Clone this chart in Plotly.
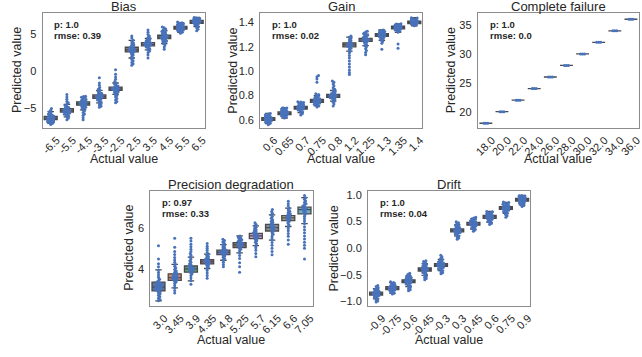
import math
import plotly.graph_objects as go

W, H = 642, 357

# ---------------- data ----------------
bias_labels = ["-6.5", "-5.5", "-4.5", "-3.5", "-2.5", "2.5", "3.5", "4.5", "5.5", "6.5"]
bias_q1 = [-6.58, -5.55, -4.62, -3.68, -2.61, 2.62, 3.44, 4.43, 5.72, 6.52]
bias_med = [-6.38, -5.35, -4.40, -3.46, -2.40, 2.92, 3.66, 4.65, 5.90, 6.72]
bias_q3 = [-6.14, -5.10, -4.16, -3.22, -2.16, 3.26, 3.90, 4.89, 6.08, 6.90]
bias_points = [
    [-7.25, -7.1, -7.0, -6.95, -6.9, -6.85, -6.8, -6.75, -6.7, -6.65, -6.6, -6.55, -6.5, -6.45, -6.4, -6.35, -6.3, -6.25, -6.2, -6.15, -6.1, -6.0, -5.9, -5.8, -5.65, -5.5, -5.3, -5.05],
    [-6.6, -6.4, -6.2, -6.05, -5.95, -5.85, -5.75, -5.7, -5.6, -5.55, -5.5, -5.45, -5.4, -5.35, -5.3, -5.25, -5.2, -5.1, -5.0, -4.9, -4.8, -4.65, -4.5, -4.3, -4.1, -3.8, -3.5, -3.15],
    [-6.6, -6.3, -6.0, -5.8, -5.6, -5.4, -5.25, -5.1, -5.0, -4.9, -4.8, -4.7, -4.6, -4.5, -4.45, -4.4, -4.35, -4.3, -4.2, -4.1, -4.0, -3.95, -3.85, -3.75, -3.65, -3.55, -3.45, -3.4],
    [-4.9, -4.75, -4.6, -4.45, -4.3, -4.15, -4.0, -3.9, -3.8, -3.7, -3.6, -3.55, -3.5, -3.45, -3.4, -3.35, -3.3, -3.2, -3.1, -3.0, -2.9, -2.75, -2.6, -2.4, -2.2, -1.9, -1.6, -0.9],
    [-4.3, -4.1, -3.9, -3.7, -3.5, -3.3, -3.15, -3.0, -2.9, -2.8, -2.7, -2.6, -2.5, -2.45, -2.4, -2.35, -2.3, -2.2, -2.1, -2.0, -1.9, -1.75, -1.6, -1.4, -1.1, -0.8, -0.4, 0.2],
    [0.8, 1.0, 1.2, 1.4, 1.6, 1.8, 2.0, 2.2, 2.35, 2.5, 2.6, 2.7, 2.8, 2.85, 2.9, 2.95, 3.0, 3.1, 3.2, 3.3, 3.4, 3.55, 3.7, 3.85, 4.0, 4.2, 4.5, 4.8],
    [1.8, 2.2, 2.5, 2.7, 2.9, 3.05, 3.2, 3.3, 3.4, 3.5, 3.55, 3.6, 3.65, 3.7, 3.75, 3.8, 3.85, 3.9, 4.0, 4.1, 4.2, 4.3, 4.45, 4.6, 4.8, 5.0, 5.3, 5.6],
    [3.0, 3.3, 3.55, 3.75, 3.9, 4.0, 4.1, 4.2, 4.3, 4.4, 4.5, 4.55, 4.6, 4.65, 4.7, 4.75, 4.8, 4.9, 5.0, 5.1, 5.2, 5.3, 5.4, 5.5, 5.6, 5.75, 5.9, 6.0],
    [5.15, 5.3, 5.4, 5.5, 5.55, 5.6, 5.65, 5.7, 5.75, 5.8, 5.85, 5.88, 5.9, 5.92, 5.95, 6.0, 6.05, 6.1, 6.15, 6.2, 6.25, 6.3, 6.35, 6.4, 6.5, 6.55, 6.6, 6.7],
    [5.5, 5.7, 5.9, 6.05, 6.2, 6.3, 6.4, 6.5, 6.55, 6.6, 6.6, 6.65, 6.7, 6.7, 6.72, 6.75, 6.8, 6.8, 6.85, 6.9, 6.95, 7.0, 7.05, 7.1, 7.15, 7.2, 7.25, 7.3],
]

gain_labels = ["0.6", "0.65", "0.7", "0.75", "0.8", "1.2", "1.25", "1.3", "1.35", "1.4"]
gain_q1 = [0.596, 0.643, 0.689, 0.744, 0.785, 1.201, 1.245, 1.287, 1.349, 1.391]
gain_med = [0.607, 0.654, 0.700, 0.756, 0.797, 1.217, 1.258, 1.298, 1.360, 1.401]
gain_q3 = [0.619, 0.666, 0.712, 0.768, 0.810, 1.234, 1.271, 1.310, 1.371, 1.412]
gain_points = [
    [0.56, 0.57, 0.575, 0.58, 0.585, 0.59, 0.595, 0.598, 0.60, 0.602, 0.605, 0.607, 0.609, 0.611, 0.614, 0.617, 0.62, 0.623, 0.627, 0.631, 0.636, 0.642, 0.648, 0.653],
    [0.615, 0.622, 0.628, 0.633, 0.637, 0.641, 0.644, 0.647, 0.65, 0.652, 0.654, 0.656, 0.658, 0.661, 0.664, 0.667, 0.671, 0.675, 0.679, 0.684, 0.689, 0.694, 0.698, 0.70],
    [0.64, 0.65, 0.66, 0.668, 0.675, 0.681, 0.686, 0.69, 0.694, 0.697, 0.70, 0.702, 0.705, 0.708, 0.711, 0.715, 0.719, 0.723, 0.728, 0.733, 0.738, 0.743, 0.747, 0.75],
    [0.707, 0.715, 0.722, 0.728, 0.733, 0.738, 0.742, 0.746, 0.75, 0.753, 0.756, 0.759, 0.762, 0.766, 0.77, 0.775, 0.78, 0.786, 0.792, 0.80, 0.808, 0.815, 0.91, 0.937, 0.955, 0.965],
    [0.715, 0.73, 0.745, 0.755, 0.765, 0.772, 0.778, 0.783, 0.788, 0.792, 0.795, 0.798, 0.80, 0.803, 0.807, 0.812, 0.818, 0.825, 0.833, 0.842, 0.852, 0.865, 0.88, 0.895, 0.91, 0.92],
    [0.973, 0.99, 1.01, 1.035, 1.06, 1.085, 1.11, 1.13, 1.15, 1.165, 1.18, 1.19, 1.2, 1.205, 1.21, 1.215, 1.22, 1.225, 1.23, 1.24, 1.25, 1.26, 1.27, 1.28, 1.29],
    [1.136, 1.155, 1.17, 1.185, 1.2, 1.21, 1.22, 1.23, 1.238, 1.245, 1.25, 1.255, 1.258, 1.262, 1.267, 1.272, 1.278, 1.284, 1.29, 1.297, 1.305, 1.313, 1.322, 1.33],
    [1.18, 1.23, 1.245, 1.255, 1.265, 1.272, 1.278, 1.284, 1.289, 1.293, 1.296, 1.298, 1.30, 1.303, 1.306, 1.31, 1.314, 1.318, 1.322, 1.327, 1.332, 1.336, 1.34],
    [1.19, 1.225, 1.32, 1.328, 1.334, 1.339, 1.343, 1.347, 1.351, 1.354, 1.357, 1.36, 1.362, 1.365, 1.368, 1.371, 1.374, 1.377, 1.38, 1.384, 1.388, 1.39],
    [1.374, 1.38, 1.385, 1.389, 1.392, 1.395, 1.398, 1.40, 1.402, 1.404, 1.407, 1.41, 1.413, 1.416, 1.42, 1.424, 1.428, 1.433, 1.438, 1.44],
]

cf_labels = ["18.0", "20.0", "22.0", "24.0", "26.0", "28.0", "30.0", "32.0", "34.0", "36.0"]
cf_points = [
    [18.0, 18.0, 18.0], [20.0, 20.0, 20.0], [22.0, 22.0, 22.0], [24.0, 24.0, 24.0], [26.0, 26.0, 26.0],
    [28.0, 28.0, 28.0], [30.0, 30.0, 30.0], [32.0, 32.0, 32.0], [34.0, 34.0, 34.0], [36.0, 36.0, 36.0],
]
cf_q1 = [18.0, 20.0, 22.0, 24.0, 26.0, 28.0, 30.0, 32.0, 34.0, 36.0]
cf_med = [18.0, 20.0, 22.0, 24.0, 26.0, 28.0, 30.0, 32.0, 34.0, 36.0]
cf_q3 = [18.0, 20.0, 22.0, 24.0, 26.0, 28.0, 30.0, 32.0, 34.0, 36.0]

prec_labels = ["3.0", "3.45", "3.9", "4.35", "4.8", "5.25", "5.7", "6.15", "6.6", "7.05"]
prec_q1 = [2.93, 3.44, 3.84, 4.24, 4.69, 5.04, 5.47, 5.84, 6.35, 6.67]
prec_med = [3.12, 3.58, 4.00, 4.35, 4.80, 5.17, 5.60, 6.00, 6.48, 6.88]
prec_q3 = [3.36, 3.76, 4.14, 4.45, 4.91, 5.28, 5.73, 6.16, 6.59, 7.00]
prec_points = [
    [2.45, 2.5, 2.58, 2.65, 2.72, 2.78, 2.84, 2.89, 2.93, 2.97, 3.0, 3.04, 3.07, 3.1, 3.12, 3.15, 3.18, 3.21, 3.25, 3.29, 3.33, 3.36, 3.42, 3.5, 3.6, 3.7, 3.82, 3.95, 4.1, 4.25, 4.48, 5.12],
    [2.83, 2.95, 3.08, 3.2, 3.3, 3.37, 3.42, 3.46, 3.5, 3.53, 3.56, 3.58, 3.6, 3.63, 3.66, 3.7, 3.74, 3.78, 3.84, 3.9, 3.97, 4.05, 4.13, 4.22, 4.32, 4.43, 4.55, 4.7, 4.85, 5.05, 5.49],
    [3.25, 3.42, 3.56, 3.68, 3.76, 3.82, 3.87, 3.91, 3.95, 3.98, 4.0, 4.03, 4.06, 4.1, 4.14, 4.19, 4.25, 4.32, 4.4, 4.48, 4.57, 4.66, 4.75, 4.85, 4.95, 5.07, 5.2, 5.35, 5.49],
    [3.55, 3.68, 3.8, 3.92, 4.02, 4.1, 4.17, 4.22, 4.26, 4.3, 4.33, 4.35, 4.37, 4.4, 4.43, 4.46, 4.5, 4.55, 4.6, 4.66, 4.72, 4.8, 4.9, 5.0, 5.1, 5.23],
    [4.11, 4.22, 4.32, 4.42, 4.5, 4.57, 4.63, 4.68, 4.72, 4.75, 4.78, 4.8, 4.82, 4.85, 4.88, 4.92, 4.96, 5.01, 5.06, 5.12, 5.18, 5.25, 5.32, 5.38, 5.44],
    [3.84, 4.1, 4.3, 4.5, 4.65, 4.78, 4.88, 4.96, 5.02, 5.07, 5.11, 5.14, 5.17, 5.2, 5.23, 5.26, 5.3, 5.34, 5.38, 5.42, 5.46, 5.5, 5.55, 5.6],
    [4.59, 4.75, 4.9, 5.03, 5.13, 5.22, 5.3, 5.37, 5.43, 5.48, 5.52, 5.56, 5.6, 5.63, 5.67, 5.71, 5.75, 5.8, 5.85, 5.9, 5.96, 6.02, 6.09, 6.16, 6.24],
    [4.69, 4.85, 5.0, 5.15, 5.28, 5.4, 5.5, 5.6, 5.68, 5.76, 5.83, 5.89, 5.94, 5.98, 6.02, 6.06, 6.1, 6.15, 6.2, 6.26, 6.32, 6.39, 6.46, 6.54, 6.62, 6.7, 6.79, 6.88],
    [5.2, 5.4, 5.58, 5.72, 5.85, 5.96, 6.06, 6.15, 6.23, 6.3, 6.36, 6.41, 6.45, 6.48, 6.51, 6.55, 6.59, 6.63, 6.68, 6.74, 6.8, 6.87, 6.95, 7.05, 7.16, 7.28],
    [4.48, 5.0, 5.15, 5.3, 5.45, 5.6, 5.75, 5.9, 6.05, 6.2, 6.33, 6.45, 6.56, 6.65, 6.72, 6.78, 6.83, 6.88, 6.92, 6.96, 7.0, 7.05, 7.1, 7.16, 7.22, 7.3, 7.38, 7.46, 7.57],
]

drift_labels = ["-0.9", "-0.75", "-0.6", "-0.45", "-0.3", "0.3", "0.45", "0.6", "0.75", "0.9"]
drift_q1 = [-0.880, -0.775, -0.645, -0.428, -0.342, 0.306, 0.432, 0.562, 0.728, 0.884]
drift_med = [-0.854, -0.749, -0.620, -0.400, -0.316, 0.334, 0.458, 0.588, 0.755, 0.910]
drift_q3 = [-0.826, -0.722, -0.594, -0.372, -0.288, 0.362, 0.484, 0.614, 0.782, 0.936]
drift_points = [
    [-1.01, -0.99, -0.97, -0.95, -0.93, -0.915, -0.9, -0.89, -0.88, -0.87, -0.862, -0.855, -0.848, -0.84, -0.83, -0.82, -0.81, -0.8, -0.79, -0.775, -0.76, -0.74, -0.72, -0.70],
    [-0.86, -0.845, -0.83, -0.815, -0.8, -0.79, -0.78, -0.772, -0.765, -0.758, -0.752, -0.748, -0.744, -0.738, -0.732, -0.725, -0.718, -0.71, -0.7, -0.69, -0.675, -0.66, -0.645, -0.63],
    [-0.80, -0.78, -0.76, -0.74, -0.72, -0.7, -0.685, -0.67, -0.655, -0.643, -0.632, -0.622, -0.615, -0.607, -0.598, -0.588, -0.578, -0.566, -0.553, -0.54, -0.525, -0.51, -0.49, -0.47],
    [-0.594, -0.57, -0.55, -0.53, -0.51, -0.49, -0.47, -0.455, -0.44, -0.425, -0.412, -0.402, -0.395, -0.385, -0.375, -0.362, -0.35, -0.335, -0.32, -0.305, -0.29, -0.27, -0.25, -0.235],
    [-0.48, -0.46, -0.44, -0.42, -0.405, -0.39, -0.375, -0.362, -0.35, -0.34, -0.33, -0.32, -0.312, -0.303, -0.293, -0.282, -0.27, -0.258, -0.245, -0.23, -0.21, -0.19, -0.16, -0.13],
    [0.167, 0.19, 0.21, 0.23, 0.25, 0.265, 0.28, 0.293, 0.305, 0.316, 0.326, 0.334, 0.342, 0.35, 0.36, 0.37, 0.382, 0.395, 0.41, 0.425, 0.44, 0.46, 0.48, 0.495],
    [0.32, 0.34, 0.36, 0.375, 0.39, 0.405, 0.418, 0.43, 0.44, 0.448, 0.455, 0.46, 0.466, 0.472, 0.48, 0.488, 0.497, 0.507, 0.518, 0.53, 0.542, 0.555, 0.568, 0.58],
    [0.446, 0.465, 0.485, 0.5, 0.515, 0.53, 0.543, 0.555, 0.565, 0.574, 0.582, 0.588, 0.595, 0.602, 0.61, 0.618, 0.627, 0.636, 0.645, 0.655, 0.665, 0.675, 0.683, 0.69],
    [0.58, 0.61, 0.635, 0.655, 0.672, 0.687, 0.7, 0.712, 0.723, 0.733, 0.742, 0.75, 0.758, 0.766, 0.775, 0.784, 0.793, 0.803, 0.813, 0.824, 0.836, 0.848, 0.858, 0.867],
    [0.785, 0.8, 0.815, 0.83, 0.843, 0.855, 0.865, 0.875, 0.885, 0.893, 0.9, 0.907, 0.913, 0.92, 0.927, 0.934, 0.941, 0.949, 0.957, 0.965, 0.973, 0.98, 0.986, 0.99],
]

stats = {
    "Bias": ("p: 1.0", "rmse: 0.39"),
    "Gain": ("p: 1.0", "rmse: 0.02"),
    "Complete failure": ("p: 1.0", "rmse: 0.0"),
    "Precision degradation": ("p: 0.97", "rmse: 0.33"),
    "Drift": ("p: 1.0", "rmse: 0.04"),
}

# ---------------- styling ----------------
box_colors = ["#5875A4", "#CC8963", "#5F9E6E", "#B55D60", "#857AAB",
              "#8D7866", "#D095BF", "#8C8C8C", "#C1B37F", "#71AEC0"]
point_color = "#4872BA"
line_gray = "#4a4a4a"
text_color = "#262626"
FONT = "Liberation Sans, Arial, sans-serif"

panels = [
    ("Bias", bias_labels, bias_q1, bias_med, bias_q3, bias_points, [-7.66, 7.93],
     [-5, 0, 5], ["\u22125", "0", "5"], (39, 203, 11, 127)),
    ("Gain", gain_labels, gain_q1, gain_med, gain_q3, gain_points, [0.537, 1.48],
     [0.6, 0.8, 1.0, 1.2, 1.4], ["0.6", "0.8", "1.0", "1.2", "1.4"], (259, 423, 11, 127)),
    ("Complete failure", cf_labels, cf_q1, cf_med, cf_q3, cf_points, [17.25, 37.1],
     [20, 25, 30, 35], ["20", "25", "30", "35"], (479, 642, 11, 127)),
    ("Precision degradation", prec_labels, prec_q1, prec_med, prec_q3, prec_points, [2.22, 7.79],
     [4, 6], ["4", "6"], (148, 312, 191, 307)),
    ("Drift", drift_labels, drift_q1, drift_med, drift_q3, drift_points, [-1.077, 1.077],
     [-1.0, -0.5, 0.0, 0.5, 1.0], ["\u22121.0", "\u22120.5", "0.0", "0.5", "1.0"], (368, 532, 191, 307)),
]


def px_x(px):
    return px / W


def px_y(py):
    return 1 - py / H


def swarm(vals, ypx, xpx, d, maxw):
    order = sorted(range(len(vals)), key=lambda k: vals[k])
    placed = []
    out = [0.0] * len(vals)
    for k in order:
        y = vals[k] * ypx
        neigh = [(px, py) for (px, py) in placed if abs(py - y) < d]
        cands = [0.0]
        for px, py in neigh:
            dx = math.sqrt(max(d * d - (py - y) ** 2, 0.0))
            cands += [px + dx, px - dx]
        cands.sort(key=lambda c: (round(abs(c), 6), c < 0))
        chosen = cands[-1]
        for c in cands:
            if all((c - px) ** 2 + (y - py) ** 2 >= d * d - 1e-6 for px, py in neigh):
                chosen = c
                break
        placed.append((chosen, y))
        lim = maxw * xpx
        out[k] = max(-lim, min(lim, chosen)) / xpx
    return out


fig = go.Figure()
layout = dict(
    width=W, height=H, margin=dict(l=0, r=0, t=0, b=0),
    paper_bgcolor="white", plot_bgcolor="white", showlegend=False,
    font=dict(family=FONT, color=text_color),
    annotations=[],
)

for n, (title, labels, q1, med, q3, pts, yr, ytv, ytt, (l, r, t, b)) in enumerate(panels, start=1):
    xa = "x" if n == 1 else f"x{n}"
    ya = "y" if n == 1 else f"y{n}"
    xpx = (r - l) / len(labels)
    ypx = (b - t) / (yr[1] - yr[0])
    xs, ys = [], []
    for i, vals in enumerate(pts):
        iqr = q3[i] - q1[i]
        lo = min([v for v in vals if v >= q1[i] - 1.5 * iqr] + [q1[i]])
        hi = max([v for v in vals if v <= q3[i] + 1.5 * iqr] + [q3[i]])
        fig.add_trace(go.Box(
            x=[i], q1=[q1[i]], median=[med[i]], q3=[q3[i]],
            lowerfence=[lo], upperfence=[hi], width=0.8, whiskerwidth=0.5,
            fillcolor=box_colors[i % len(box_colors)],
            line=dict(color=line_gray, width=1.3),
            boxpoints=False, hoverinfo="skip", xaxis=xa, yaxis=ya,
        ))
        offs = swarm(vals, ypx, xpx, 2.0, 0.18)
        xs += [i + o for o in offs]
        ys += vals
    fig.add_trace(go.Scatter(
        x=xs, y=ys, mode="markers", xaxis=xa, yaxis=ya, hoverinfo="skip",
        marker=dict(size=3.0, color=point_color, line=dict(width=0)),
    ))

    key_x = "xaxis" if n == 1 else f"xaxis{n}"
    key_y = "yaxis" if n == 1 else f"yaxis{n}"
    layout[key_x] = dict(
        domain=[px_x(l), min(1.0, px_x(r))], anchor=ya, range=[-0.5, len(labels) - 0.5],
        tickmode="array", tickvals=list(range(len(labels))), ticktext=labels,
        tickangle=-45, showgrid=False, zeroline=False, showline=True, mirror=True,
        linecolor="#8c8c8c", linewidth=1, ticks="", tickfont=dict(size=11, color=text_color),
        ticklabelshift=6, ticklabelstandoff=1, ticklabeloverflow="allow",
        fixedrange=True,
    )
    layout[key_y] = dict(
        domain=[px_y(b), px_y(t)], anchor=xa, range=yr,
        tickmode="array", tickvals=ytv, ticktext=ytt,
        showgrid=False, zeroline=False, showline=True, mirror=True,
        linecolor="#8c8c8c", linewidth=1, ticks="", tickfont=dict(size=11, color=text_color),
        ticklabelstandoff=3,
        fixedrange=True,
    )

    cy = (t + b) / 2
    ann = layout["annotations"]
    ann.append(dict(text=title, x=px_x((l + r) / 2), y=px_y(t - 6), xref="paper", yref="paper",
                    xanchor="center", yanchor="middle", showarrow=False,
                    font=dict(size=13, color=text_color)))
    ann.append(dict(text="Actual value", x=px_x((l + r) / 2), y=px_y(b + 32 if t < 100 else b + 35),
                    xref="paper", yref="paper", xanchor="center", yanchor="middle",
                    showarrow=False, font=dict(size=12.5, color=text_color)))
    ylab_off = {1: 26, 2: 27, 3: 27, 4: 21, 5: 34}[n]
    ann.append(dict(text="Predicted value", x=px_x(l - ylab_off), y=px_y(cy), xref="paper",
                    yref="paper", xanchor="center", yanchor="middle", textangle=-90,
                    showarrow=False, font=dict(size=12.5, color=text_color)))
    s1, s2 = stats[title]
    ann.append(dict(text=f"<b>{s1}</b>", x=px_x(l + 11), y=px_y(t + 12), xref="paper",
                    yref="paper", xanchor="left", yanchor="middle", showarrow=False,
                    borderpad=0, font=dict(size=9.5, color=text_color)))
    ann.append(dict(text=f"<b>{s2}</b>", x=px_x(l + 11), y=px_y(t + 22.5), xref="paper",
                    yref="paper", xanchor="left", yanchor="middle", showarrow=False,
                    borderpad=0, font=dict(size=9.5, color=text_color)))

layout["boxmode"] = "overlay"
fig.update_layout(**layout)
fig.write_html("out.html")
